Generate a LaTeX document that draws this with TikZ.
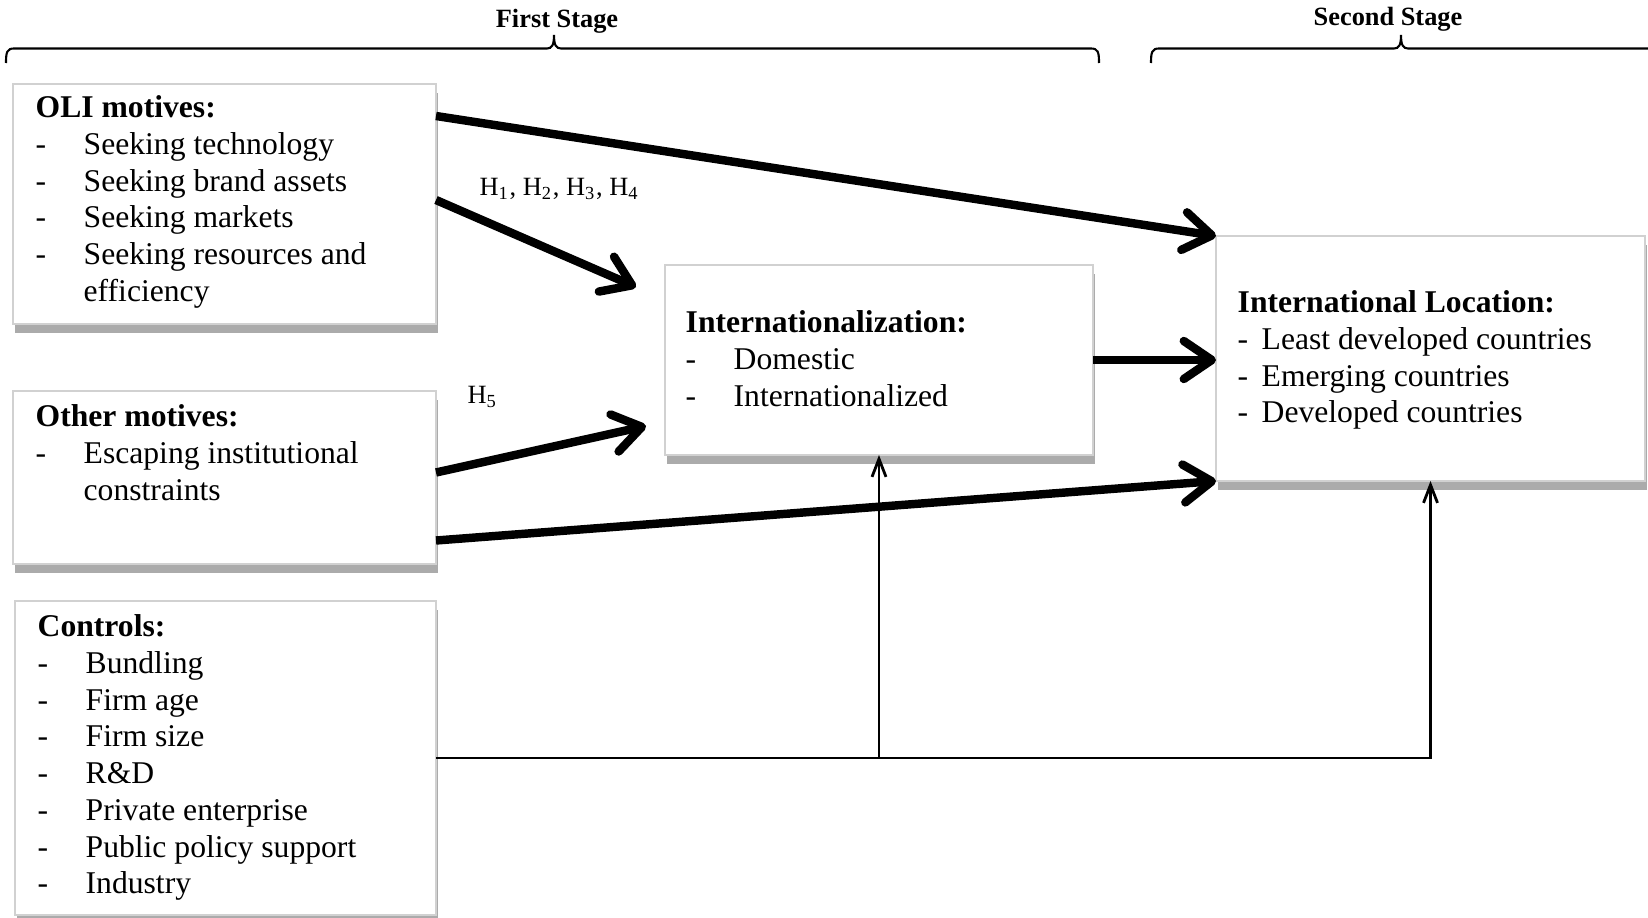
\documentclass[tikz,border=0pt]{standalone}
\usepackage{fontspec}
\setmainfont{Liberation Serif}
\usetikzlibrary{arrows.meta,shadows}

\newcommand{\dashitem}[1]{\makebox[0.48cm][l]{-}#1}
\newcommand{\shortitem}[1]{\makebox[0.24cm][l]{-}#1}

\tikzset{
  box/.style={draw=black!18, line width=0.4pt, fill=white, inner sep=0pt, outer sep=0pt, anchor=north west,
    drop shadow={shadow xshift=0.2mm, shadow yshift=-0.9mm, fill=black!33, opacity=1}},
  boxtext/.style={anchor=north west, align=left, inner sep=0pt, font=\fontsize{9}{10.45}\selectfont},
  stagelabel/.style={font=\fontsize{7.5}{9}\selectfont\bfseries, inner sep=0pt},
  hyplabel/.style={font=\fontsize{7.5}{9}\selectfont, inner sep=0pt, anchor=west},
  bigarrow/.style={line width=2.4pt, -{Straight Barb[length=2.8mm,width=3.8mm,round]}},
  thinarrow/.style={line width=0.8pt, -{Straight Barb[length=1.8mm,width=1.4mm]}},
  stagebrace/.style={line width=0.6pt}
}

\begin{document}
\begin{tikzpicture}
	\useasboundingbox (0,0) rectangle (16.48,-9.18);

	% the two stages
	\draw[stagebrace] (0.06,-0.63) .. controls (0.06,-0.52) and (0.07,-0.485) .. (0.14,-0.485)
		-- (5.47,-0.485) .. controls (5.52,-0.485) and (5.54,-0.45) .. (5.54,-0.35)
		.. controls (5.54,-0.45) and (5.56,-0.485) .. (5.61,-0.485)
		-- (10.91,-0.485) .. controls (10.98,-0.485) and (10.99,-0.52) .. (10.99,-0.63);
	\draw[stagebrace] (11.51,-0.63) .. controls (11.51,-0.52) and (11.52,-0.485) .. (11.59,-0.485)
		-- (13.94,-0.485) .. controls (13.99,-0.485) and (14.01,-0.45) .. (14.01,-0.35)
		.. controls (14.01,-0.45) and (14.03,-0.485) .. (14.08,-0.485)
		-- (16.55,-0.485);
	\node[stagelabel] (first) at (5.57,-0.21) {First Stage};
	\node[stagelabel] (second) at (13.88,-0.19) {Second Stage};

	% boxes
	\node[box, minimum width=4.23cm, minimum height=2.40cm] (oli) at (0.13,-0.84) {};
	\node[box, minimum width=4.23cm, minimum height=1.73cm] (other) at (0.13,-3.91) {};
	\node[box, minimum width=4.21cm, minimum height=3.14cm] (ctrl) at (0.15,-6.01) {};
	\node[box, minimum width=4.28cm, minimum height=1.90cm] (intl) at (6.65,-2.65) {};
	\node[box, minimum width=4.29cm, minimum height=2.45cm] (intloc) at (12.16,-2.36) {};

	% box texts
	\node[boxtext] (olitext) at (0.35,-0.95) {\textbf{OLI motives:}\\
		\dashitem{Seeking technology}\\
		\dashitem{Seeking brand assets}\\
		\dashitem{Seeking markets}\\
		\dashitem{Seeking resources and}\\
		\hspace*{0.48cm}efficiency};
	\node[boxtext] (othertext) at (0.35,-4.04) {\textbf{Other motives:}\\
		\dashitem{Escaping institutional}\\
		\hspace*{0.48cm}constraints};
	\node[boxtext] (ctrltext) at (0.37,-6.14) {\textbf{Controls:}\\
		\dashitem{Bundling}\\
		\dashitem{Firm age}\\
		\dashitem{Firm size}\\
		\dashitem{R\&D}\\
		\dashitem{Private enterprise}\\
		\dashitem{Public policy support}\\
		\dashitem{Industry}};
	\node[boxtext] (intltext) at (6.85,-3.10) {\textbf{Internationalization:}\\
		\dashitem{Domestic}\\
		\dashitem{Internationalized}};
	\node[boxtext] (intloctext) at (12.37,-2.90) {\textbf{International Location:}\\
		\shortitem{Least developed countries}\\
		\shortitem{Emerging countries}\\
		\shortitem{Developed countries}};

	% hypotheses
	\node[hyplabel] (h1to4) at (4.79,-1.89) {H\textsubscript{1}, H\textsubscript{2}, H\textsubscript{3}, H\textsubscript{4}};
	\node[hyplabel] (h5) at (4.67,-3.97) {H\textsubscript{5}};

	% effects
	\draw[bigarrow] ([yshift=0.88cm]oli.east) -- (intloc.north west);
	\draw[bigarrow] ([yshift=0.04cm]oli.east) -- ([shift={(-0.29,0.73)}]intl.west);
	\draw[bigarrow] ([yshift=0.05cm]other.east) -- ([shift={(-0.19,-0.66)}]intl.west);
	\draw[bigarrow] ([yshift=-0.63cm]other.east) -- (intloc.south west);
	\draw[bigarrow] (intl.east) -- (intl.east -| intloc.west);

	% controls
	\draw[thinarrow] (ctrl.east) -| (intloc.south);
	\draw[thinarrow] (ctrl.east -| intl.south) -- (intl.south);
\end{tikzpicture}
\end{document}
